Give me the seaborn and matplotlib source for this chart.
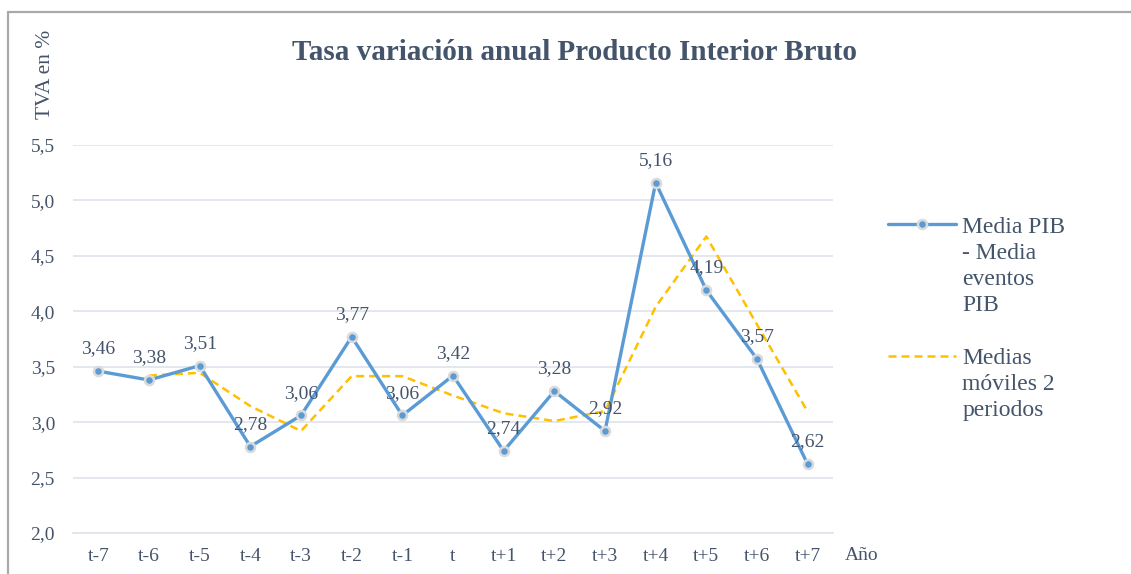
import numpy as np
import pandas as pd
import matplotlib
matplotlib.use("Agg")
import matplotlib.pyplot as plt
from matplotlib.lines import Line2D
import seaborn as sns

categories = ["t-7", "t-6", "t-5", "t-4", "t-3", "t-2", "t-1", "t",
              "t+1", "t+2", "t+3", "t+4", "t+5", "t+6", "t+7"]
pib_values = [3.46, 3.38, 3.51, 2.78, 3.06, 3.77, 3.06, 3.42,
              2.74, 3.28, 2.92, 5.16, 4.19, 3.57, 2.62]
ma_values = [np.nan, 3.42, 3.445, 3.145, 2.92, 3.415, 3.415, 3.24,
             3.08, 3.01, 3.10, 4.04, 4.675, 3.88, 3.095]
y_ticks = [2.0, 2.5, 3.0, 3.5, 4.0, 4.5, 5.0, 5.5]
label_pib = ["Media PIB", "- Media", "eventos", "PIB"]
label_ma = ["Medias", "móviles 2", "periodos"]
title = "Tasa variación anual Producto Interior Bruto"

BLUE = "#5B9BD5"
YELLOW = "#FFC000"
TEXT = "#44546A"
GRID = "#DFE3EA"

sns.set_theme(style="white")
plt.rcParams["font.family"] = ["Liberation Serif", "DejaVu Serif"]

W, H = 1131, 574
fig = plt.figure(figsize=(W / 100, H / 100), dpi=100)
ax = fig.add_axes([73 / W, 1 - 533 / H, (833 - 73) / W, (533 - 145) / H])

x = np.arange(len(categories))
df = pd.DataFrame({"x": x, "pib": pib_values, "ma": ma_values})

sns.lineplot(data=df.dropna(subset=["ma"]), x="x", y="ma", ax=ax, color=YELLOW,
             linewidth=1.8, linestyle=(0, (3.2, 2.0)), zorder=2)
sns.lineplot(data=df, x="x", y="pib", ax=ax, color=BLUE, linewidth=2.4,
             marker="o", markersize=6.5, markerfacecolor=BLUE,
             markeredgecolor="#DADADA", markeredgewidth=1.8, zorder=3)

for xi, v in zip(x, pib_values):
    ax.annotate(f"{v:.2f}".replace(".", ","), (xi, v), xytext=(0, 10),
                textcoords="offset points", ha="center", va="bottom",
                fontsize=14, color=TEXT, zorder=4)

ax.set_xlim(-0.5, len(categories) - 0.5)
ax.set_ylim(2.0, 5.5)
ax.set_yticks(y_ticks)
ax.set_yticklabels([f"{t:.1f}".replace(".", ",") for t in y_ticks])
ax.set_xticks(x)
ax.set_xticklabels(categories)
ax.set_xticks(np.arange(len(categories) + 1) - 0.5, minor=True)
ax.tick_params(axis="x", which="major", length=0, pad=11, labelsize=14, labelcolor=TEXT)
ax.tick_params(axis="x", which="minor", length=5, width=1.2, color=GRID, direction="out")
ax.tick_params(axis="y", length=0, pad=13, labelsize=14, labelcolor=TEXT)
ax.grid(axis="y", color=GRID, linewidth=1.2)
ax.grid(axis="x", visible=False)
for s in ["top", "right", "left"]:
    ax.spines[s].set_visible(False)
ax.spines["bottom"].set_color(GRID)
ax.spines["bottom"].set_linewidth(1.2)
ax.set_xlabel("")
ax.set_ylabel("")
ax.set_axisbelow(True)

fig.text(45 / W, 1 - 74 / H, "TVA en %", rotation=90, ha="center", va="center",
         fontsize=15.5, color=TEXT)
fig.text(575 / W, 1 - 52 / H, title, ha="center", va="center",
         fontsize=21, fontweight="bold", color=TEXT)
fig.text(845 / W, 1 - 556 / H, "Año", ha="left", va="center", fontsize=14, color=TEXT)

blue_h = Line2D([], [], color=BLUE, linewidth=2.4, marker="o", markersize=6.5,
                markerfacecolor=BLUE, markeredgecolor="#DADADA", markeredgewidth=1.8)
yellow_h = Line2D([], [], color=YELLOW, linewidth=1.8, linestyle=(0, (3.2, 2.0)))
blank = Line2D([], [], linestyle="none")

handles = [blue_h] + [blank] * (len(label_pib) - 1) + [blank, yellow_h] + [blank] * (len(label_ma) - 1)
labels = label_pib + [" "] + label_ma

leg = ax.legend(handles, labels, loc="upper left",
                bbox_to_anchor=(888 / W, 1 - 216 / H), bbox_transform=fig.transFigure,
                frameon=False, fontsize=17, handlelength=2.9, handletextpad=0.25,
                borderpad=0, borderaxespad=0, labelspacing=0.2, alignment="left")
for t in leg.get_texts():
    t.set_color(TEXT)

fig.add_artist(Line2D([8 / W, 1], [1 - 12 / H] * 2, transform=fig.transFigure,
                      color="#A9A9A9", linewidth=1.6))
fig.add_artist(Line2D([8 / W, 8 / W], [0, 1 - 12 / H], transform=fig.transFigure,
                      color="#A9A9A9", linewidth=1.6))

fig.savefig("out.png", dpi=100)
